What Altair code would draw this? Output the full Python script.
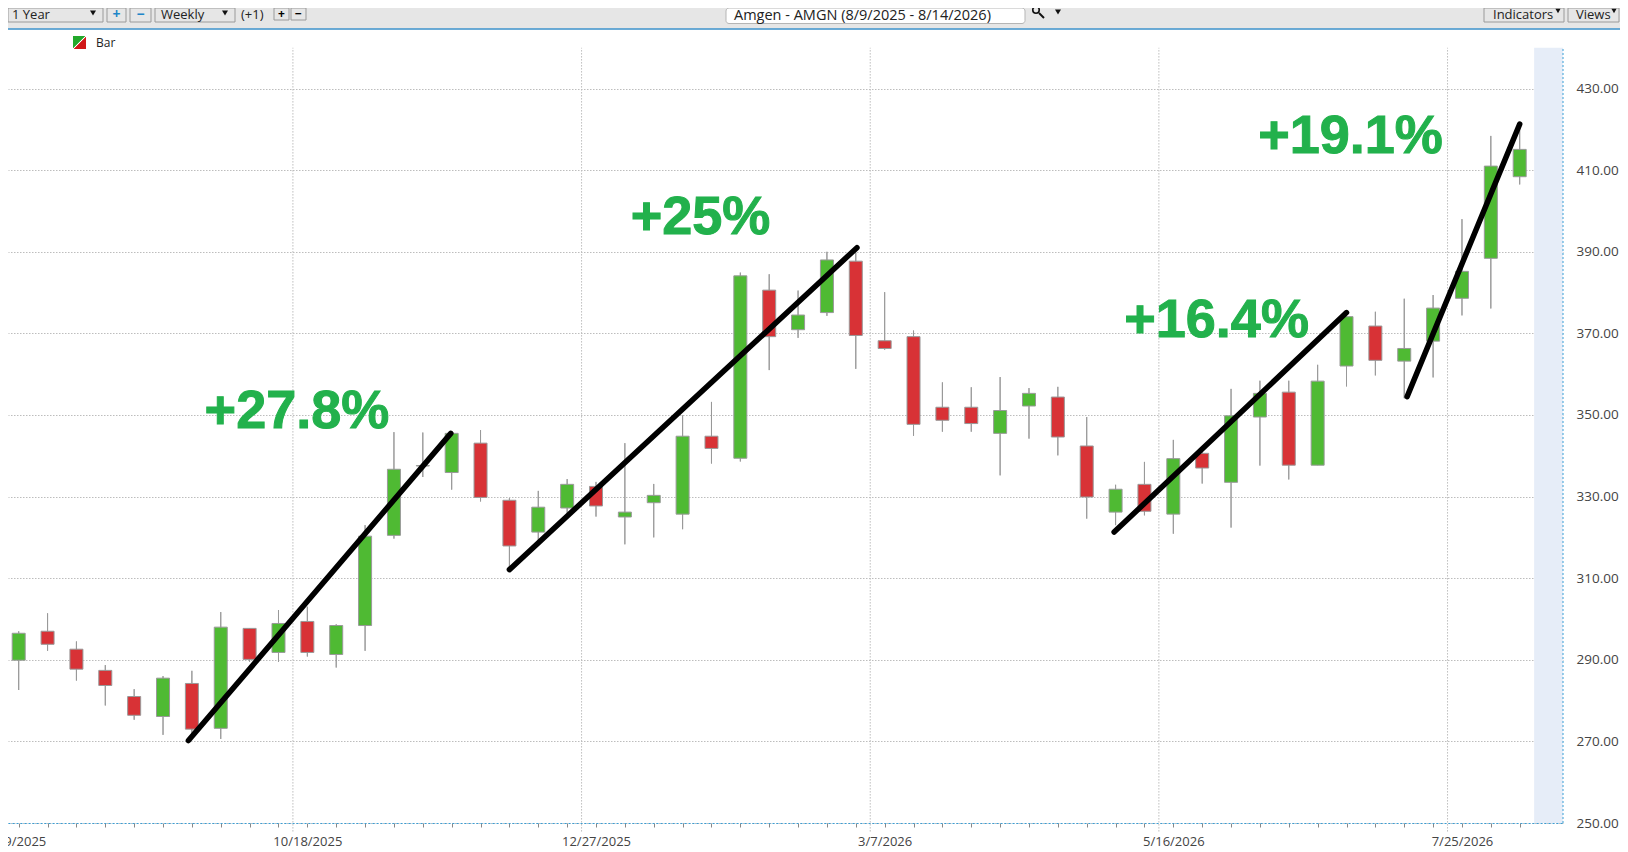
import altair as alt
import pandas as pd

# ---- weekly candles
opens = [289.9,297.0,292.6,287.4,281.0,276.1,284.2,273.2,297.7,291.8,299.4,291.3,298.4,320.5,337.5,335.9,343.1,
         329.1,321.3,327.2,332.5,325.0,328.5,325.7,344.8,339.4,380.6,370.9,375.1,387.7,368.2,369.2,351.9,351.9,345.5,
         352.2,354.4,342.4,326.2,333.0,325.7,340.6,333.5,349.5,355.6,337.7,362.0,371.8,363.2,368.1,378.6,388.4,408.4]
closes = [296.5,293.8,287.7,283.7,276.4,285.5,273.0,298.0,290.1,298.9,291.8,298.4,320.3,336.7,337.6,345.5,329.8,
          317.9,327.4,333.0,327.7,326.2,330.3,344.8,341.8,384.1,369.2,374.5,388.0,369.5,366.3,347.7,348.7,347.9,351.1,
          355.3,344.6,329.9,331.8,326.4,339.3,337.0,349.8,355.3,337.7,358.3,374.1,363.4,366.3,376.2,385.2,411.0,415.1]
highs = [297.0,301.4,294.5,288.7,282.8,286.0,287.3,301.7,297.7,302.2,303.0,298.7,323.0,345.8,345.7,346.0,346.3,
         329.6,331.4,334.3,333.6,343.1,333.1,349.9,353.2,384.9,384.5,380.5,390.0,389.8,380.1,370.7,358.0,356.8,359.3,
         356.6,356.9,349.5,332.9,338.5,343.9,341.0,356.4,358.4,358.4,362.3,375.0,375.3,378.5,379.4,398.0,418.4,420.0]
lows = [282.6,292.2,284.9,278.8,275.3,271.6,272.0,270.6,289.5,289.5,290.8,288.1,292.2,319.7,334.8,331.7,328.8,
        312.1,318.6,326.0,325.1,318.3,320.0,322.0,338.1,338.6,361.0,368.9,374.3,361.3,366.0,344.9,345.9,345.9,335.2,
        344.2,340.1,324.6,323.0,325.4,320.9,333.2,322.4,337.6,334.2,337.7,357.0,359.7,354.1,359.2,374.4,376.1,406.5]

price_ticks = [250,270,290,310,330,350,370,390,410,430]
date_labels = ["8/9/2025","10/18/2025","12/27/2025","3/7/2026","5/16/2026","7/25/2026"]
grid_x = [-0.5,9.5,19.5,29.5,39.5,49.5]

trend_x1 = [5.88,17.0,37.95,48.1]
trend_y1 = [270.2,312.1,321.3,354.5]
trend_x2 = [14.97,29.04,46.0,52.0]
trend_y2 = [345.5,391.0,375.1,421.3]

note_text = ["+27.8%","+25%","+16.4%","+19.1%"]
note_x = [6.44,21.2,38.3,42.94]
note_y = [350.7,398.3,373.1,418.1]

GREEN, RED, WICK = "#4fba33", "#d83236", "#999999"
UI_FONT = "Open Sans"

idx = list(range(len(opens)))
df = pd.DataFrame({"i": idx, "o": opens, "c": closes, "h": highs, "l": lows})
df["top"] = df[["o", "c"]].max(axis=1)
df["bot"] = df[["o", "c"]].min(axis=1)
df["dir"] = ["up" if c >= o else "down" for o, c in zip(opens, closes)]

xs = alt.Scale(domain=[-0.3706, 53.5], nice=False, zero=False, padding=0)
ys = alt.Scale(domain=[250, 449.75], nice=False, zero=False, padding=0)
label_expr = "datum.value % 10 == 0 ? " + str(date_labels) + "[datum.value / 10] : ''"
xaxis = alt.Axis(values=idx, title=None, grid=False, labelExpr=label_expr, labelOverlap=False, labelFlush=False,
                 labelBound=False, tickSize=4, tickColor="#888888", labelPadding=8, labelFont=UI_FONT, labelFontSize=13,
                 labelColor="#444444", domainColor="#3a9fd6", domainDash=[2, 2], domainWidth=1)
yaxis = alt.Axis(values=price_ticks, title=None, orient="right", format=".2f", grid=True, gridDash=[1.5, 1.5],
                 gridColor="#bdbdbd", gridWidth=1, domain=False, ticks=False, labelPadding=13, labelFont=UI_FONT,
                 labelFontSize=13.5, labelColor="#444444")

X = alt.X("i:Q", scale=xs, axis=xaxis)
Y = alt.Y("l:Q", scale=ys, axis=yaxis)
NX = alt.X("x:Q", scale=xs, axis=xaxis)
NY = alt.Y("y:Q", scale=ys, axis=yaxis)

base = alt.Chart(df)
wicks = base.mark_rule(color=WICK, strokeWidth=1).encode(x=X, y=Y, y2="h:Q")
bodies = base.mark_bar(size=13, stroke=WICK, strokeWidth=1).encode(
    x=X, y=alt.Y("bot:Q", scale=ys, axis=yaxis), y2="top:Q",
    fill=alt.Fill("dir:N", scale=alt.Scale(domain=["up", "down"], range=[GREEN, RED]), legend=None))

band = alt.Chart(pd.DataFrame({"x": [52.5], "x2": [53.5], "y": [250], "y2": [440]})).mark_rect(
    fill="#e6edf8").encode(x=NX, x2="x2:Q", y=NY, y2="y2:Q")
vgrid = alt.Chart(pd.DataFrame({"x": grid_x, "y": [247.9] * 6, "y2": [440] * 6})).mark_rule(
    color="#bdbdbd", strokeDash=[1.5, 1.5], strokeWidth=1).encode(x=NX, y=NY, y2="y2:Q")
redge = alt.Chart(pd.DataFrame({"x": [53.5], "y": [250], "y2": [440]})).mark_rule(
    color="#3a9fd6", strokeDash=[2, 2], strokeWidth=1).encode(x=NX, y=NY, y2="y2:Q")

trend = alt.Chart(pd.DataFrame({
    "x": trend_x1 + trend_x2, "y": trend_y1 + trend_y2, "g": [0, 1, 2, 3, 0, 1, 2, 3]
})).mark_line(color="black", strokeWidth=5.5, strokeCap="round").encode(x=NX, y=NY, detail="g:N")

notes = alt.Chart(pd.DataFrame({"x": note_x, "y": note_y, "t": note_text})).mark_text(
    font="Liberation Sans", fontWeight="bold", fontSize=54, color="#22b14c", stroke="#22b14c", strokeWidth=1,
    align="left", baseline="middle"
).encode(x=NX, y=NY, text="t:N")


# ---- application chrome around the plot (page pixels, not data)
def box(x, x2, y, y2, fill="#e6e6e6", stroke="#9a9a9a", radius=0):
    kw = dict(fill=fill, cornerRadius=radius)
    if stroke:
        kw.update(stroke=stroke, strokeWidth=1)
    return alt.Chart().mark_rect(**kw).encode(x=alt.value(x), x2=alt.value(x2), y=alt.value(y), y2=alt.value(y2))


def label(x, y, s, size=13, color="#222222", weight="normal", align="left"):
    return alt.Chart().mark_text(text=s, font=UI_FONT, fontSize=size, color=color, fontWeight=weight,
                                 align=align, baseline="middle").encode(x=alt.value(x), y=alt.value(y))


def tri(x, y, size=36):
    return alt.Chart().mark_point(shape="triangle-down", filled=True, color="#111111", size=size, opacity=1).encode(
        x=alt.value(x), y=alt.value(y))


chrome = [
    box(0, 1612, 0, 20.5, stroke=None),
    alt.Chart().mark_rule(color="#3a8fc8", strokeWidth=1.5).encode(x=alt.value(0), x2=alt.value(1612), y=alt.value(21)),
    box(0, 95, 0, 14), label(4, 7, "1 Year"), tri(85, 5),
    box(99, 118, 0, 14), label(108.5, 7, "+", 14, "#1f86c8", "bold", "center"),
    box(122, 143, 0, 14), label(132.5, 7, "−", 14, "#1f86c8", "bold", "center"),
    box(147, 227, 0, 14), label(153, 7, "Weekly"), tri(217, 5),
    label(233, 7, "(+1)"),
    box(266, 281, 0, 12), label(273.5, 6, "+", 12, "#000000", "bold", "center"),
    box(283, 298, 0, 12), label(290.5, 6, "−", 12, "#000000", "bold", "center"),
    box(718, 1017, 0, 15.5, "#ffffff", "#b5b5b5", 3),
    label(726, 8, "Amgen - AMGN (8/9/2025 - 8/14/2026)", 14.5),
    alt.Chart().mark_point(shape="circle", filled=False, color="#111111", size=42, strokeWidth=1.6, opacity=1).encode(
        x=alt.value(1028), y=alt.value(2)),
    alt.Chart().mark_rule(color="#111111", strokeWidth=2).encode(
        x=alt.value(1031), x2=alt.value(1036), y=alt.value(5), y2=alt.value(10)),
    tri(1050, 4),
    box(1476, 1556, 0, 14), label(1485, 7, "Indicators"), tri(1550, 3, 26),
    box(1560, 1611, 0, 14), label(1568, 7, "Views"), tri(1606, 3, 26),
    alt.Chart().mark_rect(
        fill=alt.LinearGradient(gradient="linear", x1=0, y1=0, x2=1, y2=1, stops=[
            alt.GradientStop(offset=0, color="#22a82a"), alt.GradientStop(offset=0.46, color="#22a82a"),
            alt.GradientStop(offset=0.47, color="#ffffff"), alt.GradientStop(offset=0.53, color="#ffffff"),
            alt.GradientStop(offset=0.54, color="#d01818"), alt.GradientStop(offset=1, color="#d01818")])
    ).encode(x=alt.value(65), x2=alt.value(78), y=alt.value(28), y2=alt.value(41)),
    label(88, 34.5, "Bar", 12),
]

chart = alt.layer(wicks, band, vgrid, redge, wicks, bodies, trend, notes, *chrome).properties(
    width=1555, height=815,
    padding={"left": 0, "top": 0, "right": 57, "bottom": 25},
    autosize=alt.AutoSizeParams(type="none"),
    background="white",
).configure_view(stroke=None)

chart.save("out.html", embed_options={"renderer": "svg", "actions": False})
